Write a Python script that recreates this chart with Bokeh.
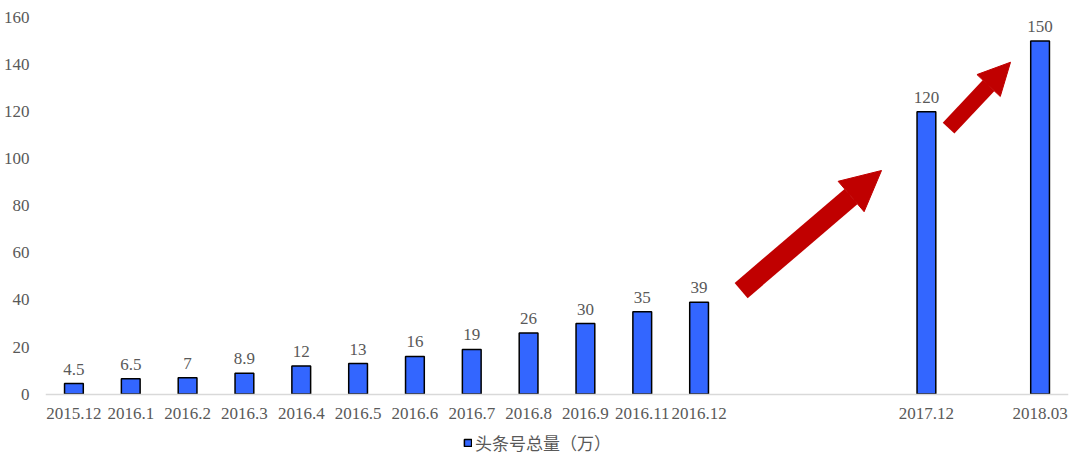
from bokeh.plotting import figure
from bokeh.models import (FactorRange, FixedTicker, Legend, LegendItem, Arrow,
                          NormalHead, ColumnDataSource, LabelSet)
from bokeh.embed import file_html
from bokeh.resources import INLINE

# ---- data ----
categories = ["2015.12", "2016.1", "2016.2", "2016.3", "2016.4", "2016.5", "2016.6",
              "2016.7", "2016.8", "2016.9", "2016.11", "2016.12", "2017.12", "2018.03"]
values = [4.5, 6.5, 7, 8.9, 12, 13, 16, 19, 26, 30, 35, 39, 120, 150]
value_labels = ["4.5", "6.5", "7", "8.9", "12", "13", "16", "19", "26", "30", "35", "39", "120", "150"]
y_ticks = [0, 20, 40, 60, 80, 100, 120, 140, 160]
series_name = "头条号总量（万）"

# axis factors with empty slots (time gaps)
factors = categories[:12] + [" ", "  ", "   "] + [categories[12]] + ["    "] + [categories[13]]

BLUE = "#3366FF"
RED = "#C00000"
GREY = "#595959"
SERIF = "Liberation Serif"

# frame extends below the zero line so the legend can sit under the x axis
p = figure(width=1072, height=456, x_range=FactorRange(*factors, range_padding=0),
           y_range=(-26.5, 160), output_backend="svg", toolbar_location=None,
           min_border_left=45, min_border_right=4, min_border_top=17, min_border_bottom=0)
p.outline_line_color = None
p.grid.grid_line_color = None
p.background_fill_color = "white"

src = ColumnDataSource(dict(x=categories, top=values, lab=value_labels))
r = p.vbar(x="x", top="top", bottom=0, width=0.33, source=src, fill_color=BLUE,
           line_color="black", line_width=1.5)

labels = LabelSet(x="x", y="top", text="lab", source=src, text_align="center",
                  text_baseline="bottom", y_offset=9, text_font=SERIF,
                  text_font_size="17px", text_color=GREY)
p.add_layout(labels)

p.yaxis.ticker = FixedTicker(ticks=y_ticks)
p.yaxis.axis_line_color = None
p.yaxis.major_tick_line_color = None
p.yaxis.minor_tick_line_color = None
p.yaxis.major_tick_out = 0
p.yaxis.major_tick_in = 0
p.yaxis.major_label_text_font = SERIF
p.yaxis.major_label_text_font_size = "17px"
p.yaxis.major_label_text_color = GREY
p.yaxis.major_label_standoff = 16

p.xaxis.fixed_location = 0
p.xaxis.axis_line_color = "#D9D9D9"
p.xaxis.axis_line_width = 1.5
p.xaxis.major_tick_line_color = None
p.xaxis.minor_tick_line_color = None
p.xaxis.major_tick_out = 0
p.xaxis.major_tick_in = 0
p.xaxis.major_label_text_font = SERIF
p.xaxis.major_label_text_font_size = "17px"
p.xaxis.major_label_text_color = GREY
p.xaxis.major_label_standoff = 10

# decorative arrows (positions in axis units)
p.add_layout(Arrow(end=NormalHead(size=40, fill_color=RED, line_color=RED),
                   x_start=12.24, y_start=44, x_end=14.71, y_end=95,
                   line_color=RED, line_width=20))
p.add_layout(Arrow(end=NormalHead(size=32, fill_color=RED, line_color=RED),
                   x_start=15.89, y_start=113, x_end=16.98, y_end=141,
                   line_color=RED, line_width=16))

legend = Legend(items=[LegendItem(label=series_name, renderers=[r])],
                orientation="horizontal", location=(418, 1),
                label_text_font="Noto Sans CJK SC", label_text_font_size="17px",
                label_text_color=GREY, glyph_width=9, glyph_height=9,
                border_line_color=None, background_fill_alpha=0,
                padding=2, margin=0, label_standoff=3)
p.add_layout(legend, "center")

open("out.html", "w").write(file_html(p, INLINE))
